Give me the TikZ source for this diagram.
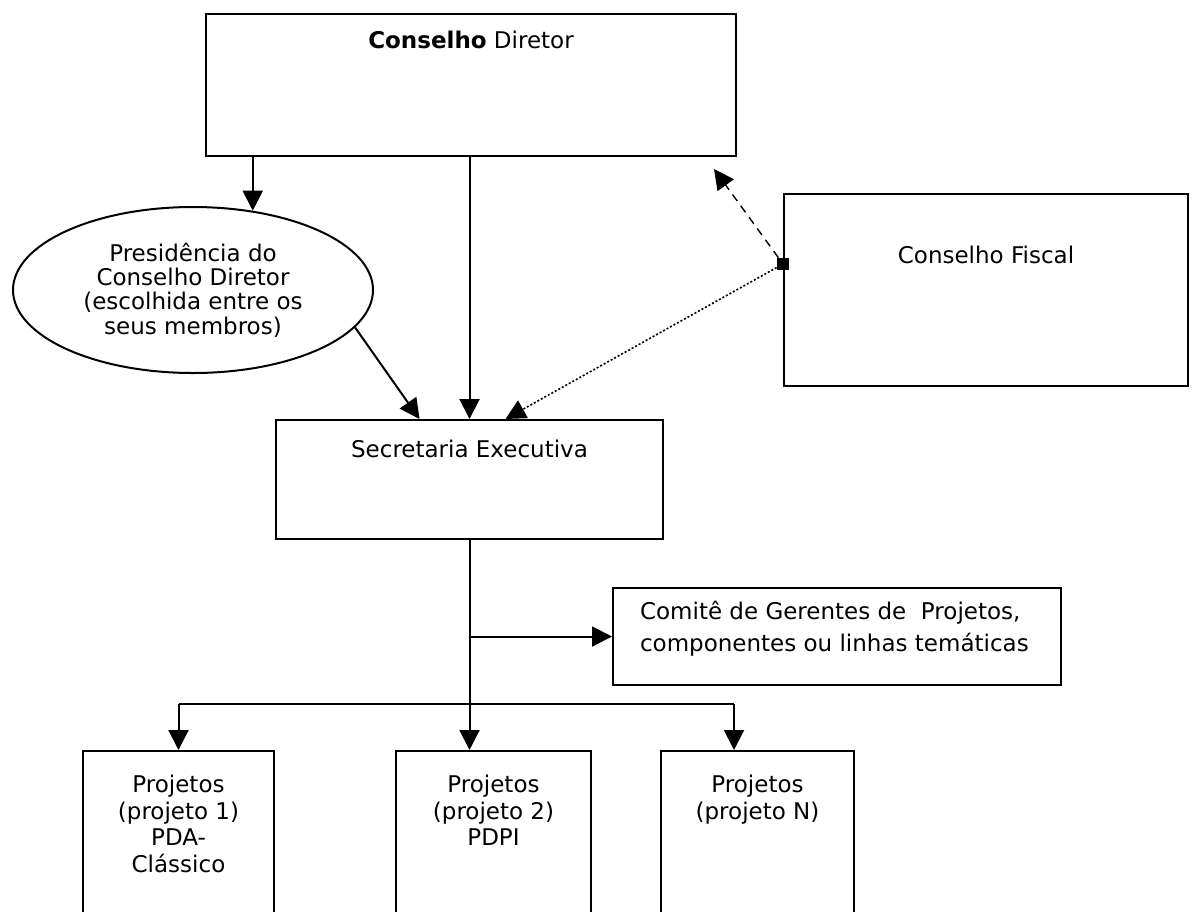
\documentclass[tikz,border=0pt]{standalone}
\usepackage{fontspec}
\setmainfont{DejaVu Sans}
\usetikzlibrary{arrows.meta,shapes.geometric}

\tikzset{
  box/.style={draw, line width=1pt, anchor=north west, inner sep=0pt},
  arr/.style={-{Triangle[length=10pt,width=10pt]}, line width=1pt},
  sq/.style={fill=black, minimum size=6pt, inner sep=0pt}
}

\begin{document}
\begin{tikzpicture}[x=0.5pt, y=-0.5pt, font=\fontsize{11.5}{13.3}\selectfont]
\useasboundingbox (0,0) rectangle (1192,911);

% upper level
\node[box, minimum width=265pt, minimum height=71pt,
  label={[anchor=base, yshift=-17.5pt]north:{\textbf{Conselho} Diretor}}] (cd) at (205,13) {};
\node[ellipse, draw, line width=1pt, minimum width=180pt, minimum height=83pt, inner sep=0pt,
  align=center, font=\fontsize{11.5}{12.2}\selectfont] (pres) at (193,290)
  {Presidência do\\Conselho Diretor\\(escolhida entre os\\seus membros)};
\node[box, minimum width=202pt, minimum height=96pt,
  label={[anchor=base, yshift=-35pt]north:Conselho Fiscal}] (fis) at (783,193) {};
\node[sq] (jn) at (783,264) {};

% secretaria
\node[box, minimum width=193.5pt, minimum height=59.5pt,
  label={[anchor=base, yshift=-19pt]north:Secretaria Executiva}] (sec) at (275,419) {};
\node[box, minimum width=224pt, minimum height=48.5pt,
  label={[anchor=north west, align=left, xshift=10.5pt, yshift=-3.5pt, font=\fontsize{11.5}{16}\selectfont]north west:{Comitê de Gerentes de\ \ Projetos,\\componentes ou linhas temáticas}}] (com) at (612,587) {};

% projetos
\node[box, minimum width=95.5pt, minimum height=90pt,
  label={[anchor=north, align=center, yshift=-9pt]north:{Projetos\\(projeto 1)\\PDA-\\Clássico}}] (p1) at (82,750) {};
\node[box, minimum width=97.5pt, minimum height=90pt,
  label={[anchor=north, align=center, yshift=-9pt]north:{Projetos\\(projeto 2)\\PDPI}}] (p2) at (395,750) {};
\node[box, minimum width=96.5pt, minimum height=90pt,
  label={[anchor=north, align=center, yshift=-9pt]north:{Projetos\\(projeto N)}}] (p3) at (660,750) {};

% connectors
\draw[arr] (cd.south -| pres.53) -- (pres.53);
\draw[arr] (cd.south -| sec.north) -- (sec.north);
\draw[arr] (pres.-13) -- ([xshift=-25pt]sec.north);
\draw[arr, line width=0.7pt, dash pattern=on 4pt off 3pt] (jn) -- ([xshift=-11.5pt,yshift=-6pt]cd.south east);
\draw[arr, line width=0.8pt, dash pattern=on 1pt off 1pt] (jn) -- ([xshift=18pt]sec.north);

\coordinate (bar) at (sec.south |- 0,704);
\draw[line width=1pt] (sec.south) -- (bar);
\draw[arr] (sec.south |- com.west) -- (com.west);
\draw[line width=1pt] (bar -| p1.north) -- ([xshift=-11.75pt]bar -| p3.north);
\draw[arr] (bar -| p1.north) -- (p1.north);
\draw[arr] (bar) -- (bar |- p2.north);
\draw[arr] ([xshift=-11.75pt]bar -| p3.north) -- ([xshift=-11.75pt]p3.north);
\end{tikzpicture}
\end{document}
